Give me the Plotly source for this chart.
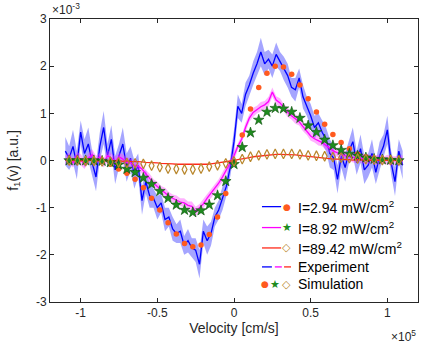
import numpy as np
import plotly.graph_objects as go

# ---- data (f1 values in units of 1e-3, velocity in cm/s) ----
f1_exp_294 = [
    0.20, 0.05, 0.30, -0.10, 0.60, 0.15, 0.35, -0.05, -0.35, 0.30,
    0.70, 0.10, 0.45, -0.20, 0.10, 0.35, -0.15, 0.05, -0.30, -0.10,
    -0.85, -0.45, -0.75, -0.80, -1.00, -0.90, -1.25, -1.20, -1.45, -1.55,
    -1.50, -1.80, -1.70, -1.85, -1.90, -2.20, -1.50, -1.70, -1.55, -1.20,
    -1.05, -0.80, -0.55, -0.15, 0.40, 1.15, 1.00, 1.40, 1.60, 1.85,
    2.05, 2.30, 2.05, 2.15, 2.00, 2.25, 2.10, 1.95, 1.80, 1.55,
    1.50, 1.75, 1.35, 1.15, 0.95, 0.70, 0.80, 0.60, 0.45, 0.15,
    0.05, -0.40, 0.10, -0.15, 0.20, 0.40, -0.05, 0.25, -0.20, -0.10,
    0.15, -0.25, 0.10, 0.30, 0.65, -0.05, -0.45, 0.20, -0.10,
]
err_exp_294 = [
    0.30, 0.25, 0.35, 0.30, 0.25, 0.30, 0.35, 0.25, 0.30, 0.30,
    0.35, 0.25, 0.30, 0.30, 0.25, 0.35, 0.30, 0.25, 0.30, 0.25,
    0.30, 0.25, 0.25, 0.20, 0.25, 0.20, 0.25, 0.20, 0.25, 0.20,
    0.25, 0.20, 0.25, 0.20, 0.25, 0.30, 0.25, 0.30, 0.25, 0.20,
    0.20, 0.25, 0.20, 0.20, 0.25, 0.25, 0.20, 0.25, 0.20, 0.25,
    0.25, 0.30, 0.25, 0.20, 0.25, 0.25, 0.20, 0.25, 0.25, 0.20,
    0.25, 0.20, 0.25, 0.20, 0.25, 0.25, 0.20, 0.25, 0.25, 0.30,
    0.25, 0.30, 0.25, 0.30, 0.25, 0.30, 0.25, 0.30, 0.30, 0.25,
    0.30, 0.25, 0.30, 0.25, 0.30, 0.25, 0.30, 0.25, 0.30,
]
f1_exp_892 = [
    0.00, 0.05, -0.05, 0.10, 0.02, -0.08, 0.05, 0.12, 0.00, 0.08,
    -0.05, 0.10, 0.05, -0.02, 0.08, 0.03, -0.05, -0.05, -0.10, -0.12,
    -0.18, -0.28, -0.38, -0.48, -0.55, -0.62, -0.68, -0.75, -0.80, -0.84,
    -0.88, -0.90, -0.95, -0.97, -1.08, -1.00, -0.92, -0.80, -0.70, -0.60,
    -0.48, -0.35, -0.20, -0.05, 0.10, 0.30, 0.45, 0.70, 0.90, 1.02,
    1.08, 1.14, 1.18, 1.25, 1.45, 1.28, 1.22, 1.12, 1.02, 0.95,
    0.88, 0.82, 0.72, 0.62, 0.52, 0.46, 0.42, 0.38, 0.32, 0.26,
    0.20, 0.16, 0.14, 0.10, 0.08, 0.06, 0.05, 0.04, 0.03, 0.02,
    0.03, 0.01, 0.02, 0.00, 0.02, -0.01, 0.01, 0.00, 0.01,
]
err_exp_892 = [
    0.10, 0.12, 0.10, 0.08, 0.12, 0.10, 0.10, 0.12, 0.10, 0.08,
    0.10, 0.12, 0.10, 0.10, 0.08, 0.10, 0.12, 0.10, 0.10, 0.08,
    0.10, 0.08, 0.10, 0.08, 0.10, 0.08, 0.10, 0.08, 0.08, 0.10,
    0.08, 0.10, 0.08, 0.10, 0.10, 0.08, 0.10, 0.08, 0.10, 0.08,
    0.08, 0.10, 0.08, 0.08, 0.10, 0.08, 0.08, 0.10, 0.08, 0.10,
    0.08, 0.10, 0.08, 0.10, 0.10, 0.08, 0.10, 0.08, 0.10, 0.08,
    0.10, 0.08, 0.10, 0.08, 0.10, 0.08, 0.10, 0.08, 0.10, 0.10,
    0.10, 0.08, 0.10, 0.10, 0.08, 0.10, 0.10, 0.08, 0.10, 0.10,
    0.08, 0.10, 0.10, 0.08, 0.10, 0.10, 0.08, 0.10, 0.10,
]
f1_exp_8942 = [
    0.01, 0.02, 0.00, 0.01, -0.01, 0.02, 0.00, 0.01, -0.01, 0.00,
    0.01, -0.01, 0.00, -0.01, 0.00, -0.02, -0.01, -0.02, -0.02, -0.03,
    -0.03, -0.04, -0.04, -0.05, -0.05, -0.06, -0.06, -0.07, -0.07, -0.08,
    -0.08, -0.09, -0.09, -0.09, -0.09, -0.09, -0.08, -0.08, -0.07, -0.06,
    -0.05, -0.04, -0.03, -0.01, 0.00, 0.02, 0.03, 0.05, 0.06, 0.08,
    0.09, 0.10, 0.11, 0.12, 0.12, 0.13, 0.13, 0.13, 0.13, 0.12,
    0.12, 0.11, 0.10, 0.09, 0.08, 0.07, 0.06, 0.05, 0.04, 0.04,
    0.03, 0.03, 0.02, 0.02, 0.02, 0.01, 0.02, 0.01, 0.01, 0.00,
    0.01, 0.00, 0.01, 0.00, 0.01, 0.00, 0.00, 0.01, 0.00,
]

sim_294 = [
    0.00, 0.00, 0.00, 0.00, -0.01, -0.08, -0.18, -0.27, -0.40, -0.58,
    -0.80, -1.05, -1.32, -1.56, -1.76, -1.83, -1.79, -1.57, -1.20, -0.70,
    -0.05, 0.54, 1.09, 1.55, 1.85, 2.00, 1.98, 1.83, 1.60, 1.31,
    1.03, 0.77, 0.55, 0.38, 0.25, 0.14, 0.08, 0.04, 0.02, 0.01, 0.00,
]
sim_892 = [
    0.00, 0.00, 0.00, 0.00, -0.01, -0.04, -0.09, -0.18, -0.25, -0.37,
    -0.50, -0.65, -0.80, -0.94, -1.05, -1.10, -1.06, -0.94, -0.74, -0.44,
    -0.08, 0.28, 0.59, 0.86, 1.03, 1.11, 1.10, 1.03, 0.90, 0.74,
    0.60, 0.44, 0.32, 0.22, 0.14, 0.10, 0.06, 0.03, 0.02, 0.01, 0.00,
]
sim_8942 = [
    0.00, 0.00, -0.01, -0.01, -0.02, -0.03, -0.04, -0.05, -0.06, -0.07,
    -0.11, -0.14, -0.17, -0.18, -0.19, -0.19, -0.17, -0.13, -0.10, -0.06,
    -0.02, 0.03, 0.08, 0.11, 0.13, 0.14, 0.14, 0.14, 0.13, 0.11,
    0.10, 0.09, 0.07, 0.06, 0.05, 0.04, 0.03, 0.02, 0.01, 0.01, 0.00,
]

vel_exp = np.linspace(-1.1e5, 1.1e5, len(f1_exp_294))
vel_sim = np.linspace(-1.075e5, 1.075e5, len(sim_294))

x_ticks = [-1e5, -0.5e5, 0, 0.5e5, 1e5]
x_ticklabels = ["-1", "-0.5", "0", "0.5", "1"]
y_ticks = [-3e-3, -2e-3, -1e-3, 0, 1e-3, 2e-3, 3e-3]
y_ticklabels = ["-3", "-2", "-1", "0", "1", "2", "3"]

labels = ["I=2.94 mW/cm<sup>2</sup>", "I=8.92 mW/cm<sup>2</sup>", "I=89.42 mW/cm<sup>2</sup>"]

BLUE, MAGENTA, RED = "#0000ff", "#ff00ff", "#ff2a1a"
ORANGE, GREEN, BROWN = "#ff5a1e", "#1e8c1e", "#b8862b"

scale = 1e-3


def band(x, y, e, fill):
    y = np.array(y) * scale
    e = np.array(e) * scale
    up = go.Scatter(x=x, y=y + e, mode="lines", line=dict(width=0), hoverinfo="skip", showlegend=False)
    lo = go.Scatter(x=x, y=y - e, mode="lines", line=dict(width=0), fill="tonexty",
                    fillcolor=fill, hoverinfo="skip", showlegend=False)
    return [up, lo]


fig = go.Figure()
fig.add_traces(band(vel_exp, f1_exp_294, err_exp_294, "rgba(40,40,255,0.42)"))
fig.add_trace(go.Scatter(x=vel_exp, y=np.array(f1_exp_294) * scale, mode="lines",
                         line=dict(color=BLUE, width=1.3), showlegend=False))
fig.add_traces(band(vel_exp, f1_exp_892, err_exp_892, "rgba(255,60,255,0.40)"))
fig.add_trace(go.Scatter(x=vel_exp, y=np.array(f1_exp_892) * scale, mode="lines",
                         line=dict(color=MAGENTA, width=1.3), showlegend=False))
fig.add_trace(go.Scatter(x=vel_exp, y=np.array(f1_exp_8942) * scale, mode="lines",
                         line=dict(color=RED, width=1.3), showlegend=False))

fig.add_trace(go.Scatter(x=vel_sim, y=np.array(sim_294) * scale, mode="markers",
                         marker=dict(symbol="circle", size=5.5, color=ORANGE), showlegend=False))
fig.add_trace(go.Scatter(x=vel_sim, y=np.array(sim_892) * scale, mode="markers",
                         marker=dict(symbol="star", size=8, color=GREEN,
                                     line=dict(color="#0b4d0b", width=0.6)), showlegend=False))
fig.add_trace(go.Scatter(x=vel_sim, y=np.array(sim_8942) * scale, mode="markers",
                         marker=dict(symbol="diamond-tall-open", size=7, color=BROWN,
                                     line=dict(width=1.2)), showlegend=False))

# ---- hand-made legend (MATLAB style: line then marker) ----
FONT = "Arial, Liberation Sans, sans-serif"
rows = [0.337, 0.263, 0.191, 0.124, 0.062]
lx0, lx1, mx, tx = 0.576, 0.628, 0.644, 0.668
shapes = []
annots = []
for yr, col, sym, mcol, txt in zip(rows[:3], [BLUE, MAGENTA, RED], ["●", "★", "◇"],
                                   [ORANGE, GREEN, BROWN], labels):
    shapes.append(dict(type="line", xref="paper", yref="paper", x0=lx0, x1=lx1, y0=yr, y1=yr,
                       line=dict(color=col, width=1.3)))
    annots.append(dict(xref="paper", yref="paper", x=mx, y=yr, text=sym, showarrow=False,
                       font=dict(size=9 if sym == "●" else 11, color=mcol, family="DejaVu Sans"),
                       xanchor="center", yanchor="middle"))
    annots.append(dict(xref="paper", yref="paper", x=tx, y=yr, text=txt, showarrow=False,
                       font=dict(size=14, color="#000000", family=FONT),
                       xanchor="left", yanchor="middle"))
for (a, b), col in zip([(0.576, 0.603), (0.611, 0.630), (0.636, 0.655)], [BLUE, MAGENTA, RED]):
    shapes.append(dict(type="line", xref="paper", yref="paper", x0=a, x1=b, y0=rows[3], y1=rows[3],
                       line=dict(color=col, width=1.3)))
annots.append(dict(xref="paper", yref="paper", x=tx, y=rows[3], text="Experiment", showarrow=False,
                   font=dict(size=14, color="#000000", family=FONT), xanchor="left", yanchor="middle"))
for xm, sym, mcol in zip([0.584, 0.611, 0.644], ["●", "★", "◇"], [ORANGE, GREEN, BROWN]):
    annots.append(dict(xref="paper", yref="paper", x=xm, y=rows[4], text=sym, showarrow=False,
                       font=dict(size=9 if sym == "●" else 11, color=mcol, family="DejaVu Sans"),
                       xanchor="center", yanchor="middle"))
annots.append(dict(xref="paper", yref="paper", x=tx, y=rows[4], text="Simulation", showarrow=False,
                   font=dict(size=14, color="#000000", family=FONT), xanchor="left", yanchor="middle"))

# exponent labels
annots.append(dict(xref="paper", yref="paper", x=0.0, y=1.0, text="×10<sup>-3</sup>", showarrow=False,
                   font=dict(size=12, color="#262626", family=FONT), xanchor="left", yanchor="bottom"))
annots.append(dict(xref="paper", yref="paper", x=1.0, y=-0.085, text="×10<sup>5</sup>", showarrow=False,
                   font=dict(size=12, color="#262626", family=FONT), xanchor="right", yanchor="top"))

fig.update_layout(
    width=443, height=344,
    margin=dict(l=50, r=25, t=17, b=36),
    plot_bgcolor="white", paper_bgcolor="white",
    font=dict(family=FONT, size=12, color="#262626"),
    shapes=shapes, annotations=annots,
    showlegend=False,
)
fig.update_xaxes(
    range=[-1.2e5, 1.2e5], tickvals=x_ticks, ticktext=x_ticklabels,
    ticks="inside", ticklen=4, tickcolor="#262626", showline=True, linecolor="#262626",
    linewidth=1, mirror="ticks", showgrid=False, zeroline=False,
    title=dict(text="Velocity [cm/s]", font=dict(size=14, color="#262626"), standoff=2),
)
fig.update_yaxes(
    range=[-3e-3, 3e-3], tickvals=y_ticks, ticktext=y_ticklabels,
    ticks="inside", ticklen=4, tickcolor="#262626", showline=True, linecolor="#262626",
    linewidth=1, mirror="ticks", showgrid=False, zeroline=False,
    title=dict(text="f<sub>1</sub>(v) [a.u.]", font=dict(size=14, color="#262626"), standoff=14),
)

# the page body has a default margin; drop it so the figure sits at the window corner
fig.write_html("out.html", config={"displayModeBar": False},
               post_script="document.body.style.margin='0px';")
